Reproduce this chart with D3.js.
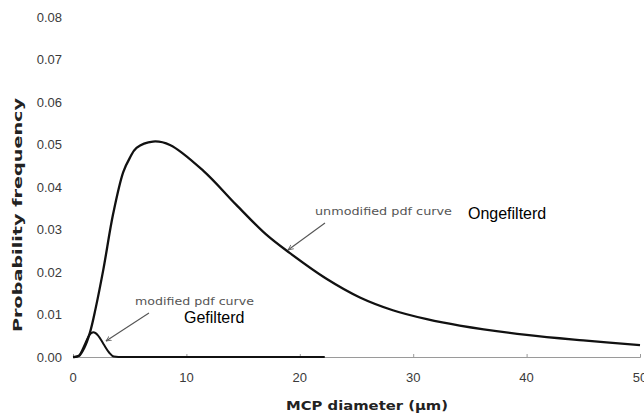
<!DOCTYPE html>
<html>
<head>
<meta charset="utf-8">
<script src="https://cdn.jsdelivr.net/npm/d3@7"></script>
<style>
  html, body { margin: 0; padding: 0; background: #fff; }
  svg { display: block; }
</style>
</head>
<body>
<svg id="chart" width="644" height="414"></svg>
<script>
// ---- data ----
const xTicks = [0, 10, 20, 30, 40, 50];
const yTicks = [0, 0.01, 0.02, 0.03, 0.04, 0.05, 0.06, 0.07, 0.08];
const yTickLabels = ["0.00", "0.01", "0.02", "0.03", "0.04", "0.05", "0.06", "0.07", "0.08"];

const unmodX = [0, 0.5, 1.0, 1.5, 2.0, 2.67, 3.55, 4.43, 5.0, 5.6, 7.05, 8.55, 11.5, 14.4, 17.0, 19.1, 22.35, 25.3, 28.2, 31.2, 34.1, 40, 45, 50];
const unmodY = [0, 0.0002, 0.0022, 0.0058, 0.0115, 0.0205, 0.0338, 0.0435, 0.0468, 0.0492, 0.0507, 0.0499, 0.0438, 0.0358, 0.0289, 0.0245, 0.0184, 0.0140, 0.0110, 0.0089, 0.0074, 0.0052, 0.0039, 0.0028];

const modX = [0, 0.5, 1.0, 1.4, 1.8, 2.2, 2.7, 3.2, 3.6, 4.0, 22.2];
const modY = [0, 0.0003, 0.0027, 0.0050, 0.0058, 0.0051, 0.0030, 0.0010, 0.0001, 0, 0];

const xTitle = "MCP diameter (µm)";
const yTitle = "Probability frequency";

const annoText = ["unmodified pdf curve", "modified pdf curve"];
const annoTextX = [21.34, 5.47];
const annoTextY = [0.0333, 0.01224];
const arrowFromX = [22.22, 6.70];
const arrowFromY = [0.03153, 0.01035];
const arrowToX = [18.96, 2.91];
const arrowToY = [0.02518, 0.00376];

const labelText = ["Ongefilterd", "Gefilterd"];
const labelX = [34.83, 9.79];
const labelY = [0.03247, 0.00807];

// ---- layout ----
const svg = d3.select("#chart");
const x = d3.scaleLinear().domain([0, 50]).range([73, 640]);
const y = d3.scaleLinear().domain([0, 0.08]).range([357, 17]);

// baseline axis
const xAxis = d3.axisBottom(x).tickValues(xTicks).tickSize(-3).tickFormat("");
const gx = svg.append("g").attr("transform", `translate(0,${y(0)})`).call(xAxis);
gx.select(".domain").attr("stroke", "#9a9a9a").attr("stroke-width", 1);
gx.selectAll(".tick line").attr("stroke", "#9a9a9a");

// x tick labels
svg.append("g").selectAll("text").data(xTicks).join("text")
  .attr("x", d => x(d)).attr("y", 382)
  .attr("text-anchor", "middle")
  .attr("font-family", "Liberation Sans, Arial, sans-serif")
  .attr("font-size", 13).attr("fill", "#3a3a3a")
  .text(d => d);

// y tick labels
svg.append("g").selectAll("text").data(yTicks).join("text")
  .attr("x", 62).attr("y", d => y(d)).attr("dy", "0.35em")
  .attr("text-anchor", "end")
  .attr("font-family", "Liberation Sans, Arial, sans-serif")
  .attr("font-size", 13).attr("fill", "#3a3a3a")
  .text((d, i) => yTickLabels[i]);

// titles
svg.append("text")
  .attr("x", 367).attr("y", 410)
  .attr("text-anchor", "middle")
  .attr("font-family", "DejaVu Sans, Verdana, sans-serif")
  .attr("font-weight", "bold").attr("font-size", 13).attr("fill", "#222")
  .attr("textLength", 162).attr("lengthAdjust", "spacingAndGlyphs")
  .text(xTitle);

svg.append("text")
  .attr("transform", `translate(22,${(97 + 333) / 2}) rotate(-90)`)
  .attr("text-anchor", "middle")
  .attr("font-family", "DejaVu Sans, Verdana, sans-serif")
  .attr("font-weight", "bold").attr("font-size", 13).attr("fill", "#222")
  .attr("textLength", 234).attr("lengthAdjust", "spacingAndGlyphs")
  .text(yTitle);

// curves
const lineMono = d3.line().x(d => x(d[0])).y(d => y(d[1])).curve(d3.curveMonotoneX);
const lineSmooth = d3.line().x(d => x(d[0])).y(d => y(d[1])).curve(d3.curveCatmullRom.alpha(0.5));
const unmod = unmodX.map((v, i) => [v, unmodY[i]]);
const mod = modX.map((v, i) => [v, modY[i]]);

svg.append("path").datum(mod).attr("d", lineMono)
  .attr("fill", "none").attr("stroke", "#111").attr("stroke-width", 2);
svg.append("path").datum(unmod).attr("d", lineSmooth)
  .attr("fill", "none").attr("stroke", "#111").attr("stroke-width", 2.3)
  .attr("stroke-linejoin", "round");

// arrow marker
svg.append("defs").append("marker")
  .attr("id", "ah").attr("viewBox", "0 0 10 10")
  .attr("refX", 9).attr("refY", 5)
  .attr("markerWidth", 6).attr("markerHeight", 6)
  .attr("markerUnits", "userSpaceOnUse")
  .attr("orient", "auto")
  .append("path").attr("d", "M0,1 L9,5 L0,9").attr("fill", "none")
  .attr("stroke", "#555").attr("stroke-width", 1.3);

// annotations
annoText.forEach((t, i) => {
  svg.append("line")
    .attr("x1", x(arrowFromX[i])).attr("y1", y(arrowFromY[i]))
    .attr("x2", x(arrowToX[i])).attr("y2", y(arrowToY[i]))
    .attr("stroke", "#555").attr("stroke-width", 1.1)
    .attr("marker-end", "url(#ah)");
  svg.append("text")
    .attr("x", x(annoTextX[i])).attr("y", y(annoTextY[i]))
    .attr("font-family", "DejaVu Sans, Verdana, sans-serif")
    .attr("font-size", 11).attr("fill", "#555")
    .attr("textLength", i === 0 ? 137 : 119).attr("lengthAdjust", "spacingAndGlyphs")
    .text(t);
});

labelText.forEach((t, i) => {
  svg.append("text")
    .attr("x", x(labelX[i])).attr("y", y(labelY[i]))
    .attr("font-family", "Liberation Sans, Arial, sans-serif")
    .attr("font-size", 16).attr("fill", "#000")
    .text(t);
});
</script>
</body>
</html>
